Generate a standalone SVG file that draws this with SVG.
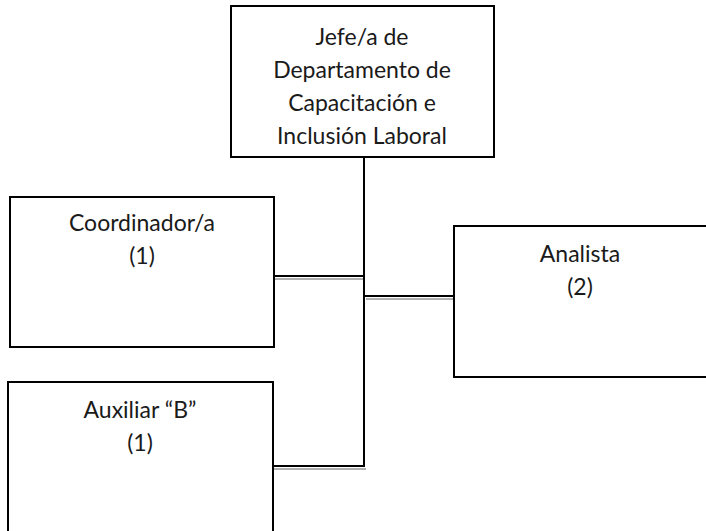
<svg xmlns="http://www.w3.org/2000/svg" width="706" height="531" viewBox="0 0 706 531">
<style>
.box{fill:#fff;stroke:#000;stroke-width:2}
.t{font-family:Lato,"Noto Sans",sans-serif;font-size:23px;fill:#1a1a1a;text-anchor:middle}
.c{stroke:#000;stroke-width:2;fill:none}
.g{stroke:#b0b0b0;stroke-width:2;fill:none}
</style>
<rect width="706" height="531" fill="#fff"/>
<g id="connectors">
<line class="c" x1="364" y1="157" x2="364" y2="467"/>
<line class="c" x1="274" y1="276" x2="364" y2="276"/>
<line class="g" x1="274" y1="279" x2="363" y2="279"/>
<line class="c" x1="364" y1="296" x2="454" y2="296"/>
<line class="g" x1="366" y1="299" x2="454" y2="299"/>
<line class="c" x1="273" y1="466" x2="364" y2="466"/>
<line class="g" x1="273" y1="469" x2="366" y2="469"/>
</g>
<g id="jefe">
<rect class="box" x="231" y="6" width="263" height="151"/>
<text class="t" x="362" y="45">Jefe/a de</text>
<text class="t" x="362" y="78">Departamento de</text>
<text class="t" x="362" y="111">Capacitación e</text>
<text class="t" x="362" y="144">Inclusión Laboral</text>
</g>
<g id="coordinador">
<rect class="box" x="10" y="197" width="264" height="150"/>
<text class="t" x="142" y="231">Coordinador/a</text>
<text class="t" x="142" y="264">(1)</text>
</g>
<g id="analista">
<rect class="box" x="454" y="226" width="270" height="151"/>
<text class="t" x="580" y="262">Analista</text>
<text class="t" x="580" y="295">(2)</text>
</g>
<g id="auxiliar">
<rect class="box" x="8" y="382" width="265" height="170"/>
<text class="t" x="140" y="418">Auxiliar “B”</text>
<text class="t" x="140" y="451">(1)</text>
</g>
</svg>
